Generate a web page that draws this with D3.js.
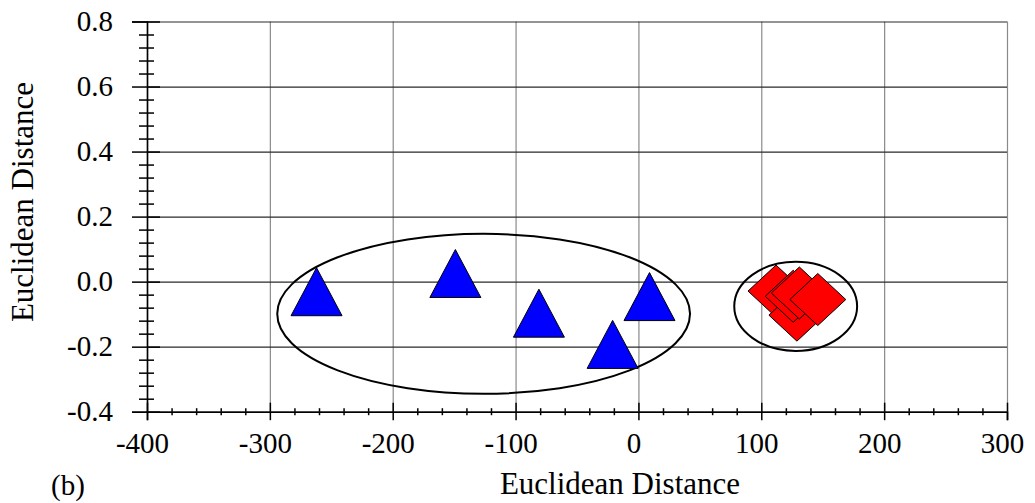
<!DOCTYPE html>
<html>
<head>
<meta charset="utf-8">
<script src="https://cdn.jsdelivr.net/npm/d3@7"></script>
<style>
  html, body { margin: 0; padding: 0; background: #fff; }
  svg { display: block; font-family: "Liberation Serif", "Times New Roman", serif; }
</style>
</head>
<body>
<div id="chart"></div>
<script>
// values
const xTicks = [-400, -300, -200, -100, 0, 100, 200, 300];
const yTicks = [-0.4, -0.2, 0.0, 0.2, 0.4, 0.6, 0.8];

// blue triangles (cluster 1)
const triX = [-262, -149, -81, 9, -21];
const triY = [-0.031, 0.025, -0.097, -0.046, -0.193];

// red diamonds (cluster 2), in drawing order
const diaX = [112, 129, 126, 131, 146];
const diaY = [-0.029, -0.103, -0.045, -0.035, -0.055];

// cluster ellipses: centre and radii in data units
const ellCx = [-126, 128];
const ellCy = [-0.099, -0.076];
const ellRx = [168, 50];
const ellRy = [0.246, 0.137];

const xLabel = "Euclidean Distance", yLabel = "Euclidean Distance", tag = "(b)";

const W = 1035, H = 503;
const m = { l: 147, r: 28, t: 21.5, b: 91.3 };
const svg = d3.select("#chart").append("svg").attr("width", W).attr("height", H);

const x = d3.scaleLinear().domain([-400, 300]).range([m.l, W - m.r]);
const y = d3.scaleLinear().domain([-0.4, 0.8]).range([H - m.b, m.t]);
const pw = W - m.r - m.l, ph = H - m.b - m.t;

const xMinor = d3.range(-400, 301, 20).filter(v => v % 100 !== 0);
const yMinor = d3.range(0, 31).map(i => +(-0.4 + i * 0.04).toFixed(2)).filter(v => Math.abs(Math.round(v * 5) - v * 5) > 1e-6);

const FS = 29;

// grid
svg.append("g").attr("transform", `translate(0,${H - m.b})`)
  .call(d3.axisBottom(x).tickValues(xTicks).tickSize(-ph).tickFormat(""))
  .call(g => g.select(".domain").remove())
  .selectAll("line").attr("stroke", "#8a8a8a").attr("stroke-width", 1.2);
svg.append("g").attr("transform", `translate(${m.l},0)`)
  .call(d3.axisLeft(y).tickValues(yTicks).tickSize(-pw).tickFormat(""))
  .call(g => g.select(".domain").remove())
  .selectAll("line").attr("stroke", "#2a2a2a").attr("stroke-width", 1.2);

// y axis: major / minor ticks on both sides
const ya = svg.append("g").attr("transform", `translate(${m.l},0)`);
ya.append("g").call(d3.axisLeft(y).tickValues(yTicks).tickSizeOuter(0).tickSize(15).tickPadding(19)
  .tickFormat(d => d.toFixed(1)))
  .call(g => g.selectAll("text").attr("font-size", FS).attr("font-family", "Liberation Serif").attr("fill", "#000"));
ya.append("g").call(d3.axisRight(y).tickValues(yTicks).tickSizeOuter(0).tickSize(13).tickFormat(""))
  .call(g => g.select(".domain").remove());
ya.append("g").call(d3.axisLeft(y).tickValues(yMinor).tickSize(8).tickFormat(""))
  .call(g => g.select(".domain").remove());
ya.append("g").call(d3.axisRight(y).tickValues(yMinor).tickSize(7).tickFormat(""))
  .call(g => g.select(".domain").remove());
ya.selectAll("line").attr("stroke", "#000").attr("stroke-width", 1.5);
ya.selectAll(".domain").attr("stroke", "#000").attr("stroke-width", 1.6);

// x axis
const xa = svg.append("g").attr("transform", `translate(0,${H - m.b})`);
xa.append("g").call(d3.axisBottom(x).tickValues(xTicks).tickSizeOuter(0).tickSize(8.5).tickPadding(12)
  .tickFormat(d => String(d)))
  .call(g => g.selectAll("text").attr("font-size", FS).attr("font-family", "Liberation Serif")
    .attr("fill", "#000").attr("dx", -5));
xa.append("g").call(d3.axisTop(x).tickValues(xTicks).tickSize(9).tickFormat(""))
  .call(g => g.select(".domain").remove());
xa.append("g").call(d3.axisBottom(x).tickValues(xMinor).tickSize(3.5).tickFormat(""))
  .call(g => g.select(".domain").remove());
xa.append("g").call(d3.axisTop(x).tickValues(xMinor).tickSize(3.5).tickFormat(""))
  .call(g => g.select(".domain").remove());
xa.selectAll("line").attr("stroke", "#000").attr("stroke-width", 1.5);
xa.selectAll(".domain").attr("stroke", "#000").attr("stroke-width", 1.6);

// ellipses
svg.append("g").selectAll("ellipse").data(ellCx).join("ellipse")
  .attr("cx", (d, i) => x(d)).attr("cy", (d, i) => y(ellCy[i]))
  .attr("rx", (d, i) => x(d + ellRx[i]) - x(d))
  .attr("ry", (d, i) => y(ellCy[i] - ellRy[i]) - y(ellCy[i]))
  .attr("fill", "none").attr("stroke", "#000").attr("stroke-width", 2);

// triangles
const tw = 25.5, th = 24;
svg.append("g").selectAll("path").data(triX).join("path")
  .attr("transform", (d, i) => `translate(${x(d)},${y(triY[i])})`)
  .attr("d", `M0,${-th}L${tw},${th}L${-tw},${th}Z`)
  .attr("fill", "#0000ff").attr("stroke", "#000").attr("stroke-width", 1);

// diamonds
const dw = 28, dh = 26;
svg.append("g").selectAll("path").data(diaX).join("path")
  .attr("transform", (d, i) => `translate(${x(d)},${y(diaY[i])})`)
  .attr("d", `M0,${-dh}L${dw},0L0,${dh}L${-dw},0Z`)
  .attr("fill", "#ff0000").attr("stroke", "#000").attr("stroke-width", 1);

// labels
svg.append("text").attr("x", 620).attr("y", 494).attr("text-anchor", "middle")
  .attr("font-size", 31).text(xLabel);
svg.append("text").attr("transform", "translate(33,202) rotate(-90)").attr("text-anchor", "middle")
  .attr("font-size", 31).text(yLabel);
svg.append("text").attr("x", 51).attr("y", 495).attr("font-size", FS).text(tag);
</script>
</body>
</html>
